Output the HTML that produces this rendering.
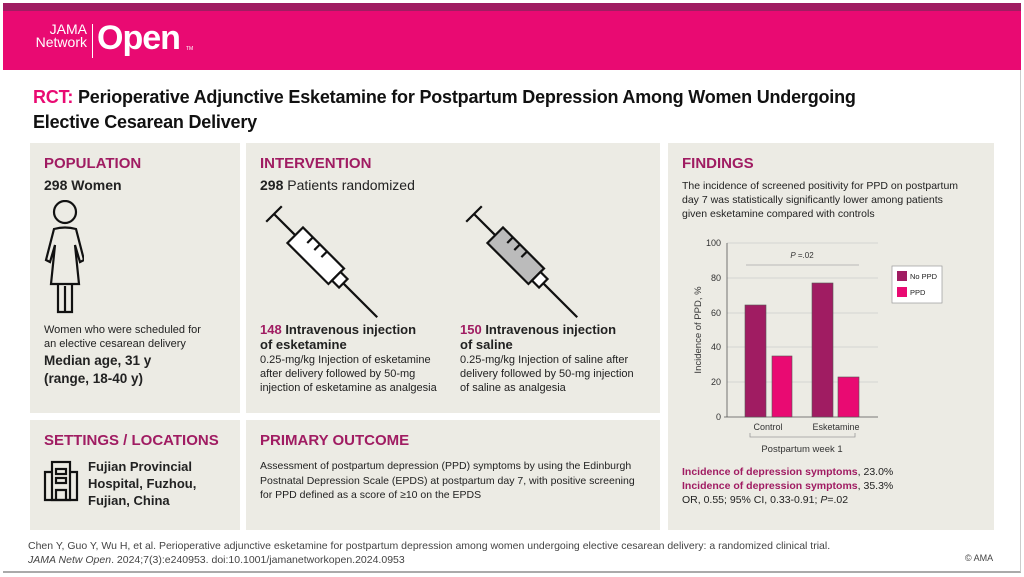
<!DOCTYPE html>
<html><head><style>
body{margin:0;width:1024px;height:577px;background:#fff;font-family:"Liberation Sans",sans-serif;position:relative;overflow:hidden}
.frame{position:absolute;left:3px;top:3px;width:1018px;height:570px;border-right:1px solid #ccc;border-bottom:2px solid #aaa;box-sizing:border-box}
.top1{position:absolute;left:3px;top:3px;width:1018px;height:8px;background:#a01c62}
.top2{position:absolute;left:3px;top:11px;width:1018px;height:59px;background:#e90a72}
.panel{position:absolute;background:#ecebe4}
h2{margin:0;font-size:15px;font-weight:bold;color:#a01c62;position:absolute;white-space:nowrap}
.t{position:absolute;color:#222;white-space:nowrap}
.pk{color:#a01c62}
</style></head><body>
<div class="frame"></div>
<div class="top1"></div><div class="top2"></div>
<div style="position:absolute;left:31px;top:23px;color:#fff;font-size:14px;line-height:13px;text-align:right;width:56px">JAMA<br>Network</div>
<div style="position:absolute;left:92px;top:24px;width:1px;height:34px;background:#fff"></div>
<div style="position:absolute;left:97px;top:19px;color:#fff;font-size:34px;font-weight:bold;letter-spacing:-1px">Open</div>
<div style="position:absolute;left:186px;top:46px;color:#fff;font-size:5px">TM</div>
<div class="t" style="left:33px;top:85px;font-size:18px;font-weight:bold;line-height:25px;color:#111;letter-spacing:-0.2px">
<span style="color:#e90a72">RCT:</span> Perioperative Adjunctive Esketamine for Postpartum Depression Among Women Undergoing<br>Elective Cesarean Delivery</div>

<div class="panel" style="left:30px;top:143px;width:210px;height:270px"></div>
<div class="panel" style="left:246px;top:143px;width:414px;height:270px"></div>
<div class="panel" style="left:30px;top:420px;width:210px;height:110px"></div>
<div class="panel" style="left:246px;top:420px;width:414px;height:110px"></div>
<div class="panel" style="left:668px;top:143px;width:326px;height:387px"></div>

<h2 style="left:44px;top:155px">POPULATION</h2>
<div class="t" style="left:44px;top:177px;font-size:14px;font-weight:bold">298 Women</div>
<svg style="position:absolute;left:44px;top:200px" width="40" height="118" viewBox="0 0 40 118" fill="none" stroke="#111" stroke-width="2.2">
<circle cx="21" cy="12" r="11"/>
<path d="M10 29 Q21 26 32 29 L40 60 L36 62 L31 45 L35 84 L7 84 L11 45 L6 62 L2 60 Z"/>
<path d="M14 84 L14 112 L28 112 L28 84 M21 86 L21 112"/>
</svg>
<div class="t" style="left:44px;top:323px;font-size:11px;line-height:14px">Women who were scheduled for<br>an elective cesarean delivery</div>
<div class="t" style="left:44px;top:352px;font-size:13.5px;font-weight:bold;line-height:18px">Median age, 31 y<br>(range, 18-40 y)</div>

<h2 style="left:260px;top:155px">INTERVENTION</h2>
<div class="t" style="left:260px;top:177px;font-size:14px"><b>298</b> Patients randomized</div>
<svg style="position:absolute;left:260px;top:200px" width="125" height="120" fill="none" stroke="#111" stroke-width="2.2">
<g transform="translate(14,14) rotate(45)">
<path d="M0 -11 L0 11 M0 0 L30 0"/>
<rect x="30" y="-11" width="58" height="22" fill="#fff"/>
<rect x="88" y="-6" width="10" height="12" fill="#fff"/>
<path d="M98 0 L146 0 M44 -11 L44 -3 M54 -11 L54 -3 M64 -11 L64 -3"/>
</g></svg>
<svg style="position:absolute;left:460px;top:200px" width="125" height="120" fill="none" stroke="#111" stroke-width="2.2">
<g transform="translate(14,14) rotate(45)">
<path d="M0 -11 L0 11 M0 0 L30 0"/>
<rect x="30" y="-11" width="58" height="22" fill="#bbb"/>
<rect x="88" y="-6" width="10" height="12" fill="#fff"/>
<path d="M98 0 L146 0 M44 -11 L44 -3 M54 -11 L54 -3 M64 -11 L64 -3"/>
</g></svg>
<div class="t" style="left:260px;top:322px;font-size:13px;font-weight:bold;line-height:15px"><span class="pk">148</span> Intravenous injection<br>of esketamine</div>
<div class="t" style="left:260px;top:353px;font-size:11px;line-height:14px">0.25-mg/kg Injection of esketamine<br>after delivery followed by 50-mg<br>injection of esketamine as analgesia</div>
<div class="t" style="left:460px;top:322px;font-size:13px;font-weight:bold;line-height:15px"><span class="pk">150</span> Intravenous injection<br>of saline</div>
<div class="t" style="left:460px;top:353px;font-size:11px;line-height:14px">0.25-mg/kg Injection of saline after<br>delivery followed by 50-mg injection<br>of saline as analgesia</div>

<h2 style="left:44px;top:432px">SETTINGS / LOCATIONS</h2>
<svg style="position:absolute;left:43px;top:460px" width="36" height="42" viewBox="0 0 36 42" fill="none" stroke="#111" stroke-width="2.2">
<rect x="9" y="2" width="18" height="38"/><path d="M9 12 L2 12 L2 40 L34 40 L34 12 L27 12"/><rect x="13" y="9" width="10" height="5"/><rect x="13" y="18" width="10" height="5"/><path d="M13 40 L13 30 L23 30 L23 40"/>
</svg>
<div class="t" style="left:88px;top:458px;font-size:13px;font-weight:bold;line-height:17px">Fujian Provincial<br>Hospital, Fuzhou,<br>Fujian, China</div>

<h2 style="left:260px;top:432px">PRIMARY OUTCOME</h2>
<div class="t" style="left:260px;top:459px;font-size:10.5px;line-height:14.5px">Assessment of postpartum depression (PPD) symptoms by using the Edinburgh<br>Postnatal Depression Scale (EPDS) at postpartum day 7, with positive screening<br>for PPD defined as a score of ≥10 on the EPDS</div>

<h2 style="left:682px;top:155px">FINDINGS</h2>
<div class="t" style="left:682px;top:179px;font-size:10.5px;line-height:14px">The incidence of screened positivity for PPD on postpartum<br>day 7 was statistically significantly lower among patients<br>given esketamine compared with controls</div>

<svg style="position:absolute;left:670px;top:230px" width="320" height="230" font-family="Liberation Sans, sans-serif" font-size="9">
<g stroke="#ccc" stroke-width="0.7"><line x1="57" y1="13" x2="208" y2="13"/><line x1="57" y1="48" x2="208" y2="48"/><line x1="57" y1="83" x2="208" y2="83"/><line x1="57" y1="117" x2="208" y2="117"/><line x1="57" y1="152" x2="208" y2="152"/></g>
<line x1="57" y1="13" x2="57" y2="187" stroke="#555" stroke-width="0.8"/>
<line x1="54" y1="187" x2="208" y2="187" stroke="#555" stroke-width="0.8"/>
<g text-anchor="end" fill="#333"><text x="51" y="16">100</text><text x="51" y="51">80</text><text x="51" y="86">60</text><text x="51" y="120">40</text><text x="51" y="155">20</text><text x="51" y="190">0</text></g>
<text transform="translate(31 100) rotate(-90)" text-anchor="middle" fill="#333" font-size="9.5">Incidence of PPD, %</text>
<line x1="76" y1="35" x2="189" y2="35" stroke="#aaa" stroke-width="0.8"/>
<text x="132" y="28" text-anchor="middle" fill="#333" font-size="8"><tspan font-style="italic">P</tspan> =.02</text>
<g stroke="#555" stroke-width="0.6">
<rect x="75" y="75" width="21" height="112" fill="#a01c62"/>
<rect x="102" y="126" width="20" height="61" fill="#e90a72"/>
<rect x="142" y="53" width="21" height="134" fill="#a01c62"/>
<rect x="168" y="147" width="21" height="40" fill="#e90a72"/>
</g>
<text x="98" y="200" text-anchor="middle" fill="#333">Control</text>
<text x="166" y="200" text-anchor="middle" fill="#333">Esketamine</text>
<path d="M80 203 L80 207 L185 207 L185 203" fill="none" stroke="#999" stroke-width="0.8"/>
<text x="132" y="222" text-anchor="middle" fill="#333" font-size="9.5">Postpartum week 1</text>
<rect x="222" y="36" width="50" height="37" fill="#fff" stroke="#999" stroke-width="0.7"/>
<rect x="227" y="41" width="10" height="10" fill="#a01c62"/><text x="240" y="49" font-size="7.5" fill="#222">No PPD</text>
<rect x="227" y="57" width="10" height="10" fill="#e90a72"/><text x="240" y="65" font-size="7.5" fill="#222">PPD</text>
</svg>

<div class="t" style="left:682px;top:465px;font-size:10.5px;line-height:14px"><b class="pk">Incidence of depression symptoms</b>, 23.0%<br><b class="pk">Incidence of depression symptoms</b>, 35.3%<br>OR, 0.55; 95% CI, 0.33-0.91; <i>P</i>=.02</div>

<div class="t" style="left:28px;top:539px;font-size:10.5px;line-height:14px;color:#444">Chen Y, Guo Y, Wu H, et al. Perioperative adjunctive esketamine for postpartum depression among women undergoing elective cesarean delivery: a randomized clinical trial.<br><i>JAMA Netw Open</i>. 2024;7(3):e240953. doi:10.1001/jamanetworkopen.2024.0953</div>
<div class="t" style="left:965px;top:553px;font-size:9px;color:#444">© AMA</div>
</body></html>
